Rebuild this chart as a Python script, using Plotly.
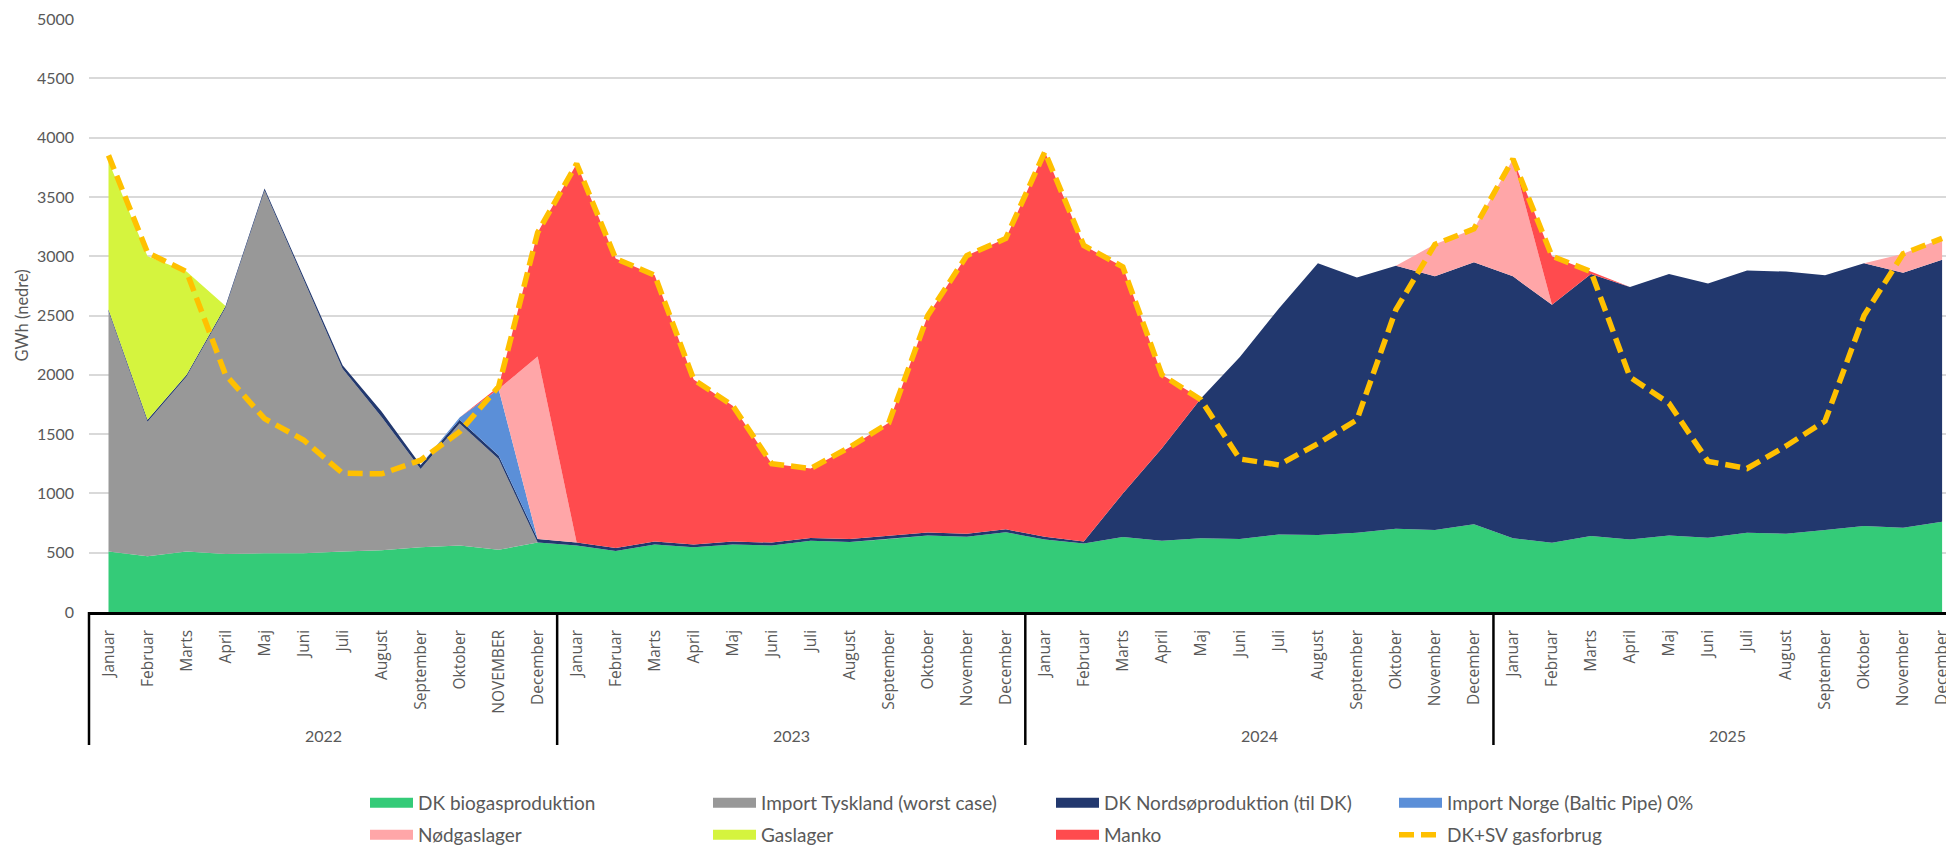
import plotly.graph_objects as go

# ---------------- data ----------------
years = ["2022", "2023", "2024", "2025"]
months_2022 = ["Januar", "Februar", "Marts", "April", "Maj", "Juni", "Juli",
               "August", "September", "Oktober", "NOVEMBER", "December"]
months_std = ["Januar", "Februar", "Marts", "April", "Maj", "Juni", "Juli",
              "August", "September", "Oktober", "November", "December"]
month_labels = months_2022 + months_std + months_std + months_std

biogas = [510, 470, 510, 490, 495, 495, 510, 520, 545, 560, 525, 585,
          560, 515, 570, 545, 570, 560, 600, 590, 615, 645, 635, 672,
          612, 578, 632, 600, 621, 615, 654, 649, 669, 702, 691, 739,
          621, 584, 640, 612, 646, 626, 669, 660, 691, 725, 711, 761]
tyskland = [2025, 1135, 1475, 2075, 3060, 2305, 1540, 1125, 660, 1030, 765, 0,
            0, 0, 0, 0, 0, 0, 0, 0, 0, 0, 0, 0,
            0, 0, 0, 0, 0, 0, 0, 0, 0, 0, 0, 0,
            0, 0, 0, 0, 0, 0, 0, 0, 0, 0, 0, 0]
nordso = [15, 15, 15, 15, 15, 20, 30, 45, 35, 30, 30, 30,
          25, 25, 25, 25, 25, 25, 25, 25, 25, 25, 25, 25,
          23, 17, 368, 780, 1179, 1535, 1906, 2291, 2151, 2218, 2139, 2211,
          2209, 2006, 2210, 2128, 2204, 2144, 2211, 2210, 2149, 2215, 2149, 2209]
norge = [0, 0, 0, 0, 0, 0, 0, 0, 0, 20, 560, 0,
         0, 0, 0, 0, 0, 0, 0, 0, 0, 0, 0, 0,
         0, 0, 0, 0, 0, 0, 0, 0, 0, 0, 0, 0,
         0, 0, 0, 0, 0, 0, 0, 0, 0, 0, 0, 0]
nodgaslager = [0, 0, 0, 0, 0, 0, 0, 0, 0, 0, 0, 1540,
               0, 0, 0, 0, 0, 0, 0, 0, 0, 0, 0, 0,
               0, 0, 0, 0, 0, 0, 0, 0, 0, 0, 270, 280,
               990, 0, 0, 0, 0, 0, 0, 0, 0, 0, 160, 180]
gaslager = [1250, 1380, 870, 0, 0, 0, 0, 0, 0, 0, 0, 0,
            0, 0, 0, 0, 0, 0, 0, 0, 0, 0, 0, 0,
            0, 0, 0, 0, 0, 0, 0, 0, 0, 0, 0, 0,
            0, 0, 0, 0, 0, 0, 0, 0, 0, 0, 0, 0]
manko = [0, 0, 0, 0, 0, 0, 0, 0, 0, 0, 20, 1045,
         3195, 2440, 2245, 1390, 1145, 665, 585, 775, 955, 1830, 2345, 2453,
         3245, 2495, 1910, 620, 0, 0, 0, 0, 0, 0, 0, 0,
         0, 410, 20, 0, 0, 0, 0, 0, 0, 0, 0, 0]
forbrug = [3850, 3030, 2870, 2000, 1630, 1450, 1170, 1165, 1280, 1520, 1900, 3200,
           3780, 2980, 2840, 1960, 1740, 1250, 1210, 1390, 1595, 2500, 3005, 3150,
           3880, 3090, 2910, 2000, 1790, 1290, 1240, 1420, 1620, 2550, 3100, 3230,
           3820, 3000, 2870, 1980, 1760, 1270, 1210, 1400, 1610, 2500, 3020, 3150]

names = ["DK biogasproduktion", "Import Tyskland (worst case)",
         "DK Nordsøproduktion (til DK)", "Import Norge (Baltic Pipe) 0%",
         "Nødgaslager", "Gaslager", "Manko", "DK+SV gasforbrug"]
colors = ["#34CB78", "#989898", "#22386E", "#5B8FD8",
          "#FFA6A8", "#D5F43E", "#FF4B4E", "#FFC000"]
series = [biogas, tyskland, nordso, norge, nodgaslager, gaslager, manko]

x = list(range(len(month_labels)))

fig = go.Figure()

# stacked areas
for nm, vals, col in zip(names[:7], series, colors[:7]):
    fig.add_trace(go.Scatter(
        x=x, y=vals, name=nm, stackgroup="one", mode="lines",
        line=dict(width=0, color=col), fillcolor=col, showlegend=False))

# consumption line
fig.add_trace(go.Scatter(
    x=x, y=forbrug, name=names[7], mode="lines",
    line=dict(color=colors[7], width=5.5, dash="15px,7px"),
    showlegend=False))

# legend entries
for i, (nm, col) in enumerate(zip(names, colors)):
    if i < 7:
        ln = dict(color=col, width=10)
    else:
        ln = dict(color=col, width=5.5, dash="15px,7px")
    fig.add_trace(go.Scatter(
        x=[None], y=[None], name=nm, mode="lines", line=ln,
        legend="legend" if i < 4 else "legend2", hoverinfo="skip"))

W, H = 1946, 846
L, R, T, B = 89, 0, 19, 234
plot_h = H - T - B
plot_w = W - L - R

def py(px):
    return (H - B - px) / plot_h

font_main = "Lato, 'Open Sans', sans-serif"
grey = "#595959"

shapes = []
for k, b in enumerate([-0.5, 11.5, 23.5, 35.5]):
    if k == 0:
        shapes.append(dict(type="line", xref="paper", yref="paper", x0=0, x1=0,
                           y0=0, y1=py(745), line=dict(color="black", width=2.5)))
    else:
        shapes.append(dict(type="line", xref="x", yref="paper", x0=b, x1=b,
                           y0=0, y1=py(745), line=dict(color="black", width=2.5)))

annotations = []
for k, yr in enumerate(years):
    annotations.append(dict(x=5.5 + 12 * k, xref="x", y=py(735), yref="paper",
                            text=yr, showarrow=False, xanchor="center", yanchor="middle",
                            font=dict(family=font_main, size=16, color=grey)))
annotations.append(dict(x=0, xref="paper", xshift=-68, y=0.5, yref="paper",
                        text="GWh (nedre)", textangle=-90, showarrow=False,
                        xanchor="center", yanchor="middle",
                        font=dict(family=font_main, size=16.5, color=grey)))

legend_common = dict(orientation="h", xanchor="left", yanchor="middle",
                     xref="paper", yref="container",
                     font=dict(family=font_main, size=19, color=grey),
                     itemwidth=43, entrywidth=285, entrywidthmode="pixels",
                     bgcolor="rgba(0,0,0,0)", borderwidth=0,
                     itemclick=False, itemdoubleclick=False, traceorder="normal")

fig.update_layout(
    template="none",
    width=W, height=H, autosize=False,
    margin=dict(l=L, r=R, t=T, b=B, pad=0),
    paper_bgcolor="white", plot_bgcolor="white",
    showlegend=True,
    legend=dict(legend_common, x=(365 - L) / plot_w, y=(H - 803) / H),
    legend2=dict(legend_common, x=(365 - L) / plot_w, y=(H - 835) / H),
    xaxis=dict(range=[-0.5, 47.1], tickmode="array", tickvals=x, ticktext=month_labels,
               tickangle=-90, showgrid=False, zeroline=False, automargin=False,
               showline=True, linecolor="black", linewidth=2.5,
               ticks="", ticklabelstandoff=9, ticklabeloverflow="allow",
               tickfont=dict(family="'Open Sans', sans-serif", size=15.5, color=grey)),
    yaxis=dict(range=[0, 5000], dtick=500, tick0=0, showgrid=True, automargin=False,
               gridcolor="#D9D9D9", gridwidth=1.5, zeroline=False, showline=False,
               ticks="", ticklabelstandoff=14,
               tickfont=dict(family=font_main, size=16, color=grey)),
    shapes=shapes, annotations=annotations,
)

fig.write_html("out.html", config={"displayModeBar": False},
               post_script="document.body.style.margin='0';")
